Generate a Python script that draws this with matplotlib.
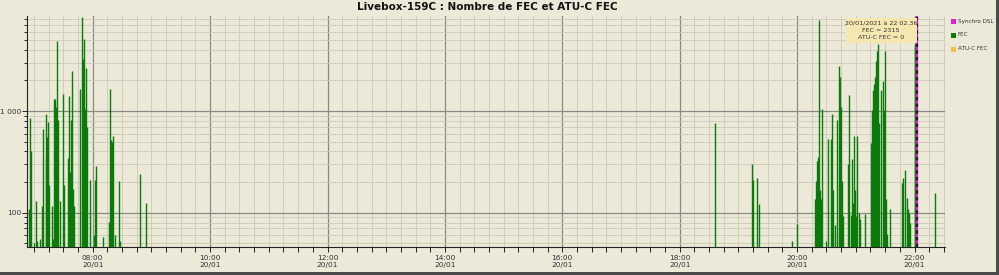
import numpy as np
import pandas as pd
import matplotlib
matplotlib.use('Agg')
import matplotlib.pyplot as plt
import matplotlib.dates as mdates
from matplotlib.patches import Rectangle
from matplotlib.ticker import FixedLocator, LogLocator, FuncFormatter, NullFormatter

# FEC counts per sample on 20/01/2021
fec_times = [
    "06:55:12", "06:56:12", "06:57:18", "07:00:18", "07:02:00", "07:03:00", "07:06:24",
    "07:08:30", "07:09:12", "07:12:00", "07:12:36", "07:13:18", "07:14:00", "07:15:48",
    "07:18:06", "07:19:06", "07:20:06", "07:21:12", "07:22:30", "07:23:30", "07:24:36",
    "07:26:36", "07:29:18", "07:30:42", "07:34:48", "07:35:48", "07:36:48", "07:37:54",
    "07:38:54", "07:39:54", "07:41:00", "07:47:00", "07:49:00", "07:49:48", "07:50:48",
    "07:51:48", "07:53:12", "07:54:30", "07:57:12", "08:01:18", "08:02:24", "08:03:24",
    "08:10:48", "08:16:42", "08:17:42", "08:18:42", "08:19:42", "08:20:48", "08:22:48",
    "08:27:12", "08:27:54", "08:48:42", "08:54:12",
    "18:36:24", "19:14:24", "19:15:12", "19:18:42", "19:21:24", "19:54:48", "19:59:36",
    "20:18:18", "20:19:24", "20:20:24", "20:21:24", "20:22:24", "20:23:24", "20:24:48",
    "20:25:48", "20:29:18", "20:31:54", "20:34:24", "20:36:00", "20:37:00", "20:39:06",
    "20:41:06", "20:42:36", "20:43:54", "20:44:54", "20:46:00", "20:47:18", "20:52:06",
    "20:53:30", "20:54:54", "20:55:54", "20:56:54", "20:58:18", "20:59:18", "21:00:18",
    "21:01:42", "21:03:06", "21:04:24", "21:09:54", "21:15:12", "21:16:36", "21:17:36",
    "21:18:36", "21:19:36", "21:20:42", "21:22:00", "21:23:00", "21:24:00", "21:25:24",
    "21:27:30", "21:28:48", "21:29:48", "21:30:54", "21:32:12", "21:34:54", "21:47:30",
    "21:48:36", "21:50:36", "21:52:00", "21:53:06", "21:54:06", "21:55:06", "22:00:00",
    "22:01:00", "22:21:00",
]
fec_values = [
    109, 855, 405, 50, 130, 53, 55,
    116, 664, 943, 344, 551, 781, 186,
    116, 55, 1321, 1321, 1094, 4880, 818,
    130, 1477, 186, 344, 1390, 254, 818,
    2450, 170, 116, 1651, 8400, 3240, 5070,
    1050, 2650, 700, 211, 60, 210, 291,
    58, 81, 1650, 518, 500, 567, 60,
    205, 53, 240, 125,
    764, 302, 211, 219, 122, 53, 78,
    135, 207, 326, 356, 7900, 168, 135,
    1040, 53, 527, 527, 943, 168, 75,
    812, 2790, 2140, 1094, 205, 93, 302,
    1422, 95, 337, 125, 567, 168, 93,
    567, 100, 87, 97, 481, 1020, 1600,
    1850, 2140, 3120, 3900, 4530, 755, 1600,
    1990, 1020, 3900, 135, 62, 108, 196,
    219, 264, 141, 108, 100, 80, 4530,
    4300, 158,
]
day = "2021-01-20 "
synchro_time = "22:02:36"
tooltip_lines = ["20/01/2021 à 22 02.36", "FEC = 2315", "ATU-C FEC = 0"]
legend_labels = ["Synchro DSL", "FEC", "ATU-C FEC"]
legend_colors = ["#E020D0", "#0A7A0A", "#F2C04A"]

bg = "#ECE9D8"
t = pd.to_datetime([day + s for s in fec_times])

fig = plt.figure(figsize=(9.99, 2.75), dpi=100, facecolor=bg)
ax = fig.add_axes([27 / 999, 1 - 247 / 275, (945 - 27) / 999, (247 - 16) / 275])
ax.set_facecolor(bg)

ax.vlines(t, 1, fec_values, color="#0A7A0A", lw=1.0, zorder=3)

ax.set_yscale("log")
ax.set_ylim(46, 8600)
ax.set_xlim(pd.Timestamp(day + "06:52:50"), pd.Timestamp(day + "22:31:10"))

# synchro DSL marker
ts = pd.Timestamp(day + synchro_time)
ax.axvline(ts, color="#E020D0", lw=1.6, zorder=4)
ax.axvline(ts, color="#202020", lw=1.6, ls=(0, (1.5, 1.5)), zorder=5)

# x axis
ax.xaxis.set_major_locator(mdates.HourLocator(byhour=range(0, 24, 2)))
ax.xaxis.set_minor_locator(mdates.MinuteLocator(byminute=[0, 15, 30, 45]))
ax.xaxis.set_major_formatter(mdates.DateFormatter("%H:%M\n%d/%m"))
# y axis
ax.yaxis.set_major_locator(FixedLocator([100, 1000]))
ax.yaxis.set_minor_locator(LogLocator(base=10, subs=np.arange(2, 10)))
ax.yaxis.set_major_formatter(FuncFormatter(lambda v, p: "1 000" if v >= 1000 else "100"))
ax.yaxis.set_minor_formatter(NullFormatter())

ax.tick_params(axis="both", which="both", direction="out", colors="#222222",
               labelsize=5.3, width=0.7)
ax.tick_params(axis="x", which="both", length=3.5, pad=2, labelcolor="#333333")
ax.tick_params(axis="y", which="major", length=3.5, pad=0.5, labelcolor="#333333")
ax.tick_params(axis="y", which="minor", length=2.5)

ax.grid(True, which="minor", color="#CDC9BA", lw=0.6, zorder=0)
ax.grid(True, which="major", color="#8A8A84", lw=0.9, zorder=1)
ax.set_axisbelow(True)

for s in ["top", "right"]:
    ax.spines[s].set_visible(False)
for s in ["left", "bottom"]:
    ax.spines[s].set_color("#222222")
    ax.spines[s].set_linewidth(0.8)

fig.text(487 / 999, 1 - 7 / 275, "Livebox-159C : Nombre de FEC et ATU-C FEC",
         ha="center", va="center", fontsize=7.5, fontweight="bold", color="#111111")

# tooltip
fig.patches.append(Rectangle((846 / 999, 1 - 43 / 275), 71 / 999, 25 / 275,
                             transform=fig.transFigure, facecolor="#F4E7B0",
                             edgecolor="none", zorder=6))
for i, line in enumerate(tooltip_lines):
    fig.text(881 / 999, 1 - (23.5 + 7.2 * i) / 275, line, ha="center", va="center",
             fontsize=4.6, color="#333333", zorder=7)

# legend
for i, (lab, col) in enumerate(zip(legend_labels, legend_colors)):
    yc = 21 + 14 * i
    fig.patches.append(Rectangle((951 / 999, 1 - (yc + 2.5) / 275), 4.5 / 999, 5 / 275,
                                 transform=fig.transFigure, facecolor=col,
                                 edgecolor="none"))
    fig.text(958 / 999, 1 - yc / 275, lab, ha="left", va="center", fontsize=4.1,
             color="#333333")

# window borders
fig.patches.append(Rectangle((0, 0), 1, 3 / 275, transform=fig.transFigure,
                             facecolor="#4A4A4A", edgecolor="none"))
fig.patches.append(Rectangle((996 / 999, 0), 3 / 999, 1, transform=fig.transFigure,
                             facecolor="#4A4A4A", edgecolor="none"))

fig.savefig("out.png", dpi=100, facecolor=bg)
